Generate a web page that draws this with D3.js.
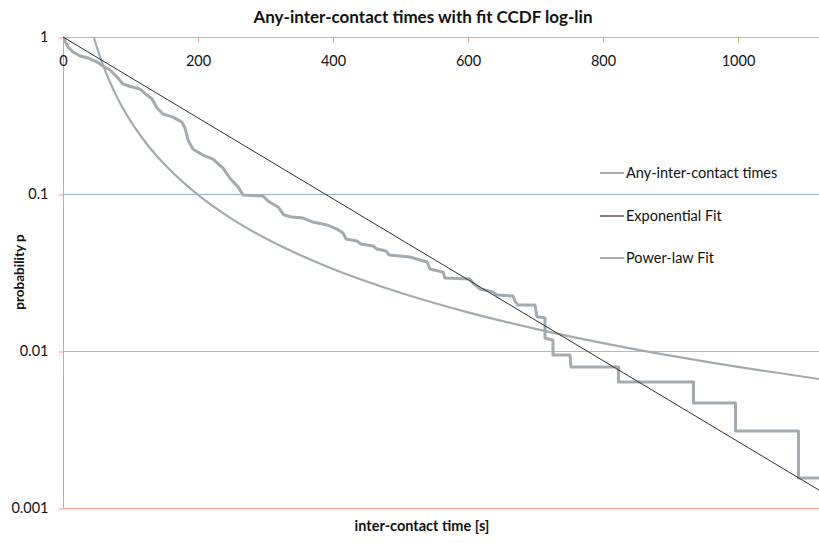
<!DOCTYPE html>
<html>
<head>
<meta charset="utf-8">
<script src="https://cdn.jsdelivr.net/npm/d3@7"></script>
<style>
  html, body { margin: 0; padding: 0; background: #fff; }
  svg { display: block; font-family: Lato, "Open Sans", sans-serif; }
</style>
</head>
<body>
<svg id="chart" width="819" height="543"></svg>
<script>
// ---- data ----
const title = "Any-inter-contact times with fit CCDF log-lin";
const xLabel = "inter-contact time [s]";
const yLabel = "probability p";
const xTicks = [0, 200, 400, 600, 800, 1000];
const yTicks = [1, 0.1, 0.01, 0.001];
const yTickLabels = ["1", "0.1", "0.01", "0.001"];
const seriesNames = ["Any-inter-contact times", "Exponential Fit", "Power-law Fit"];

// empirical CCDF
const empX = [0, 7.4, 14.8, 25.2, 37.0, 50.4, 59.3, 69.6, 80.0, 88.9, 102.2, 114.1, 124.4, 131.9, 139.3,
  148.1, 163.0, 176.3, 180.7, 185.2, 192.6, 207.4, 222.2, 237.0, 247.4, 259.3, 266.7, 296.3, 303.7,
  318.5, 327.4, 339.3, 355.6, 370.4, 391.1, 405.9, 414.8, 419.3, 435.6, 441.5, 459.3, 465.2, 478.5,
  483.0, 514.1, 528.9, 539.3, 543.7, 563.0, 565.9, 603.0, 607.4, 617.8, 637.0, 643.0, 666.7, 669.6,
  674.1, 699.3, 702.2, 714.1, 714.1, 725.9, 725.9, 751.1, 752.6, 822.9, 822.9, 934.0, 934.0, 996.3,
  996.3, 1089.6, 1089.6, 1120];
const empP = [1, 0.864, 0.803, 0.757, 0.735, 0.693, 0.654, 0.616, 0.556, 0.502, 0.480, 0.466, 0.427,
  0.403, 0.353, 0.323, 0.309, 0.287, 0.263, 0.221, 0.193, 0.177, 0.167, 0.146, 0.126, 0.111, 0.0986,
  0.0971, 0.0902, 0.0827, 0.0735, 0.0714, 0.0703, 0.0663, 0.0635, 0.0598, 0.0564, 0.0517, 0.0502,
  0.0480, 0.0466, 0.0446, 0.0434, 0.0409, 0.0397, 0.0380, 0.0369, 0.0333, 0.0318, 0.0292, 0.0287,
  0.0271, 0.0248, 0.0238, 0.0227, 0.0224, 0.0208, 0.0196, 0.0196, 0.0165, 0.0162, 0.0121, 0.0117,
  0.00943, 0.00943, 0.00791, 0.00791, 0.00635, 0.00635, 0.00466, 0.00466, 0.00309, 0.00309, 0.00155,
  0.00155];

// exponential fit
const expX = [0, 1120];
const expP = [1, 0.0013];

// power-law fit
const powX = [45.6, 50, 60, 70, 80, 100, 125, 150, 200, 250, 300, 400, 500, 600, 700, 800, 900, 1000, 1120];
const powP = [1, 0.866, 0.650, 0.511, 0.414, 0.292, 0.206, 0.155, 0.0986, 0.0695, 0.0522, 0.0333,
  0.0235, 0.01763, 0.01384, 0.01123, 0.00934, 0.00792, 0.00663];

// ---- chart ----
const svg = d3.select("#chart");
const plot = { left: 63, right: 819, top: 37, bottom: 508 };

const x = d3.scaleLinear().domain([0, 1120]).range([plot.left, plot.right]);
const y = d3.scaleLog().domain([0.001, 1]).range([plot.bottom, plot.top]);

const salmon = "#eaa48f";
const blue = "#93b7cb";
const grey = "#a3abb0";

svg.append("defs").append("clipPath").attr("id", "clip")
  .append("rect").attr("x", plot.left).attr("y", plot.top - 1)
  .attr("width", plot.right - plot.left).attr("height", plot.bottom - plot.top + 2);

// gridlines
const gridColors = [salmon, blue, salmon, salmon];
svg.append("g").selectAll("line").data(yTicks).join("line")
  .attr("x1", plot.left).attr("x2", plot.right)
  .attr("y1", d => y(d) + 0.5).attr("y2", d => y(d) + 0.5)
  .attr("stroke", (d, i) => gridColors[i]).attr("stroke-width", 1);

// y axis
const yAxis = svg.append("g").attr("transform", `translate(${plot.left + 0.5},0)`)
  .call(d3.axisLeft(y).tickValues(yTicks).tickSize(5).tickPadding(10)
    .tickFormat((d, i) => yTickLabels[i]));
yAxis.select(".domain").attr("stroke", blue).attr("d", `M0,${plot.top}V${plot.bottom}`);
yAxis.selectAll(".tick line").attr("stroke", salmon).attr("transform", "translate(0,0.5)");
yAxis.selectAll(".tick text").attr("font-size", 14.5).attr("fill", "#111")
  .attr("font-family", "Lato, sans-serif");

// x axis (at p = 1, labels below the line)
const xAxis = svg.append("g").attr("transform", `translate(0,${plot.top + 0.5})`)
  .call(d3.axisBottom(x).tickValues(xTicks).tickSize(5).tickPadding(13).tickFormat(d3.format("d")));
xAxis.select(".domain").remove();
xAxis.selectAll(".tick line").attr("stroke", salmon);
xAxis.selectAll(".tick text").attr("font-size", 14.5).attr("fill", "#111")
  .attr("font-family", "Lato, sans-serif");

// series
const g = svg.append("g").attr("clip-path", "url(#clip)");

g.append("path").datum(powX.map((v, i) => [v, powP[i]]))
  .attr("d", d3.line().x(d => x(d[0])).y(d => y(d[1])).curve(d3.curveMonotoneX))
  .attr("fill", "none").attr("stroke", grey).attr("stroke-width", 2.2);

g.append("path").datum(empX.map((v, i) => [v, empP[i]]))
  .attr("d", d3.line().x(d => x(d[0])).y(d => y(d[1])))
  .attr("fill", "none").attr("stroke", grey).attr("stroke-width", 3).attr("stroke-linejoin", "round");

g.append("path").datum(expX.map((v, i) => [v, expP[i]]))
  .attr("d", d3.line().x(d => x(d[0])).y(d => y(d[1])))
  .attr("fill", "none").attr("stroke", "#2f2f2f").attr("stroke-width", 1);

// legend
const legendColors = [grey, "#8d7a78", grey];
const legendY = [173, 216, 258];
const leg = svg.append("g");
seriesNames.forEach((name, i) => {
  leg.append("line").attr("x1", 600).attr("x2", 624)
    .attr("y1", legendY[i]).attr("y2", legendY[i])
    .attr("stroke", legendColors[i]).attr("stroke-width", 2);
  leg.append("text").attr("x", 626).attr("y", legendY[i]).attr("dy", "0.35em")
    .attr("font-size", 14.5).attr("fill", "#111").text(name);
});

// title and axis labels
svg.append("text").attr("x", 423).attr("y", 23).attr("text-anchor", "middle")
  .attr("font-size", 17).attr("font-weight", "bold").attr("fill", "#111").text(title);
svg.append("text").attr("x", 422).attr("y", 531).attr("text-anchor", "middle")
  .attr("font-size", 14.5).attr("font-weight", "bold").attr("fill", "#111").text(xLabel);
svg.append("text").attr("transform", "translate(24,272) rotate(-90)").attr("text-anchor", "middle")
  .attr("font-size", 13.5).attr("font-weight", "bold").attr("fill", "#111").text(yLabel);
</script>
</body>
</html>
